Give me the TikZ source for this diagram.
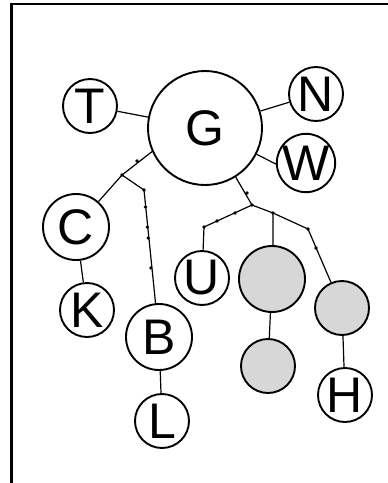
\documentclass[tikz,border=0pt]{standalone}
\usepackage{fontspec}
\setmainfont{Liberation Sans}
\definecolor{nodegrey}{RGB}{215,215,215}
\begin{document}
\begin{tikzpicture}[x=1pt,y=-1pt,
  circ/.style={circle,draw=black,line width=1.9pt,inner sep=0pt,fill=white,
    font=\fontsize{50}{50}\selectfont},
  small/.style={circ,minimum size=54pt},
  mid/.style={circ,minimum size=66pt},
  big/.style={circ,minimum size=114pt},
  greyc/.style={fill=nodegrey},
  edge/.style={line width=1.2pt,black},
  bead/.style={circle,fill=black,inner sep=0pt,minimum size=3.6pt}]
\useasboundingbox (0,0) rectangle (388,483);
\draw[line width=2.6pt] (11.3,483) -- (11.3,4) -- (388,4);
% nodes
\node[big]   (G)  at (205,128) {G};
\node[small] (T)  at (90,106) {T};
\node[small] (N)  at (316,94) {N};
\node[small] (W)  at (306,163) {W};
\node[mid]   (C)  at (76,227) {C};
\node[small] (K)  at (87,310) {K};
\node[mid]   (B)  at (159,337) {B};
\node[small] (L)  at (162,421) {L};
\node[small] (U)  at (202,278) {U};
\node[mid,greyc]   (g1) at (272,279) {};
\node[small,greyc] (g2) at (268,366) {};
\node[small,greyc] (g3) at (342,308) {};
\node[small] (H)  at (345,395) {H};
% junctions
\coordinate (J1) at (122,175);
\coordinate (B1) at (144,190);
\coordinate (J2) at (252,205);
\coordinate (U1) at (204,227);
\coordinate (J3) at (273,213);
\coordinate (R1) at (308,229);
% plain connectors
\draw[edge] (T) -- (G);
\draw[edge] (G) -- (N);
\draw[edge] (G.-27) -- (W.182);
\draw[edge] (C) -- (K);
\draw[edge] (B) -- (L);
\draw[edge] (g1) -- (g2);
\draw[edge] (g3) -- (H);
% branching connectors
\draw[edge] (G.204) -- (J1) -- (C);
\draw[edge] (J1) -- (B1) -- (B);
\draw[edge] (G.-58) -- (J2) -- (U1) -- (U);
\draw[edge] (J2) -- (J3) -- (g1.north -| J3);
\draw[edge] (J3) -- (R1) -- (g3);
% beads
\foreach \p in {(137,161),(J1),(B1),(145.5,207),(147.3,227),(148.2,238),(150.9,268),
  (247,193),(J2),(235,213),(217,221),(U1),(J3),(R1),(316,248)}
  \node[bead] at \p {};
\end{tikzpicture}
\end{document}
